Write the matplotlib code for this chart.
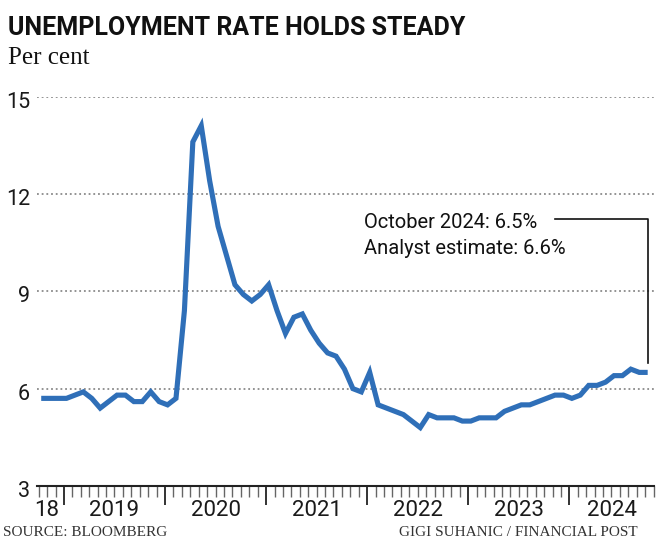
import numpy as np
import pandas as pd
import matplotlib
matplotlib.use('Agg')
import matplotlib.pyplot as plt
import matplotlib.transforms as mtrans

# monthly unemployment rate, Oct 2018 - Oct 2024
start_month = '2018-10'
rate = [5.7, 5.7, 5.7, 5.7, 5.8, 5.9, 5.7, 5.4, 5.6, 5.8, 5.8, 5.6, 5.6, 5.9, 5.6, 5.5, 5.7,
        8.4, 13.6, 14.1, 12.4, 11.0, 10.1, 9.2, 8.9, 8.7, 8.9, 9.2, 8.4, 7.7, 8.2, 8.3,
        7.8, 7.4, 7.1, 7.0, 6.6, 6.0, 5.9, 6.5, 5.5, 5.4, 5.3, 5.2, 5.0, 4.8, 5.2, 5.1,
        5.1, 5.1, 5.0, 5.0, 5.1, 5.1, 5.1, 5.3, 5.4, 5.5, 5.5, 5.6, 5.7, 5.8, 5.8, 5.7,
        5.8, 6.1, 6.1, 6.2, 6.4, 6.4, 6.6, 6.5, 6.5]
y_ticks = [3, 6, 9, 12, 15]
year_labels = ['18', '2019', '2020', '2021', '2022', '2023', '2024']
note_lines = ['October 2024: 6.5%', 'Analyst estimate: 6.6%']

W, H = 667, 553
BLUE = '#2f6fb8'
COND = ['Roboto', 'DejaVu Sans']
SERIF = ['Liberation Serif', 'DejaVu Serif']

x = np.arange(len(rate))

fig = plt.figure(figsize=(W / 100, H / 100), dpi=100)
ax = fig.add_axes([37 / W, 1 - 486 / H, 617 / W, 389.5 / H])

ax.plot(x, rate, color=BLUE, lw=3.7, solid_joinstyle='miter', solid_capstyle='butt',
        clip_on=False, zorder=3)

ax.set_xlim(-0.5, 72.75)
ax.set_ylim(3, 15)

# dotted gridlines
for v in y_ticks[1:]:
    ax.axhline(v, color='#8a8a8a', lw=1.3, ls=(0, (1, 1.6)), zorder=1)

for s in ['top', 'right', 'left']:
    ax.spines[s].set_visible(False)
ax.spines['bottom'].set_color('#222222')
ax.spines['bottom'].set_linewidth(1.5)

ax.set_yticks(y_ticks)
ax.set_yticklabels([str(v) for v in y_ticks], family=COND, fontsize=15.5, color='#1a1a1a')
ax.tick_params(axis='y', length=0, pad=5)
# labels sit a few pixels below their line
down = mtrans.ScaledTranslation(0, -3 / 100, fig.dpi_scale_trans)
for lab in ax.get_yticklabels():
    lab.set_transform(lab.get_transform() + down)

# month ticks and year ticks
tick_shift = -0.3
months_all = np.arange(len(rate) + 1)
dates_all = pd.date_range(start_month, periods=len(months_all), freq='MS')
jan = months_all[dates_all.month == 1]
ax.set_xticks(jan + tick_shift)
ax.set_xticks([m + tick_shift for m in months_all if m not in jan], minor=True)
ax.set_xticklabels([])
ax.tick_params(axis='x', which='major', direction='out', length=14, width=1.4, color='#333333')
ax.tick_params(axis='x', which='minor', direction='out', length=8, width=1.0, color='#666666')

# year labels centred on each year span
edges = [ax.get_xlim()[0]] + list(jan + tick_shift) + [ax.get_xlim()[1]]
for i, lab in enumerate(year_labels):
    cx = (edges[i] + edges[i + 1]) / 2
    if i == 0:
        cx -= 0.5
    ax.text(cx, -0.063, lab, transform=ax.get_xaxis_transform(), ha='center', va='center',
            family=COND, fontsize=16, color='#1a1a1a')

# annotation with leader line
last = len(rate) - 1
ax.text(38.3, 11.13, note_lines[0], family=COND, fontsize=14.5, va='center', ha='left',
        color='#111111')
ax.text(38.3, 10.33, note_lines[1], family=COND, fontsize=14.5, va='center', ha='left',
        color='#111111')
ax.plot([61.0, last, last], [11.23, 11.23, rate[last] + 0.3], color='#111111', lw=1.2,
        clip_on=False, zorder=4)

# titles and credits
fig.text(8 / W, 1 - 28 / H, 'UNEMPLOYMENT RATE HOLDS STEADY', family=COND, weight='bold',
         fontsize=18, va='center', ha='left', color='#111111')
fig.text(8 / W, 1 - 58 / H, 'Per cent', family=SERIF, fontsize=18, va='center', ha='left',
         color='#111111')
fig.text(3 / W, 1 - 533 / H, 'SOURCE: BLOOMBERG', family=SERIF, fontsize=11, va='center',
         ha='left', color='#333333')
fig.text(399 / W, 1 - 533 / H, 'GIGI SUHANIC / FINANCIAL POST', family=SERIF, fontsize=11,
         va='center', ha='left', color='#333333')

fig.savefig('out.png', dpi=100, facecolor='white')
